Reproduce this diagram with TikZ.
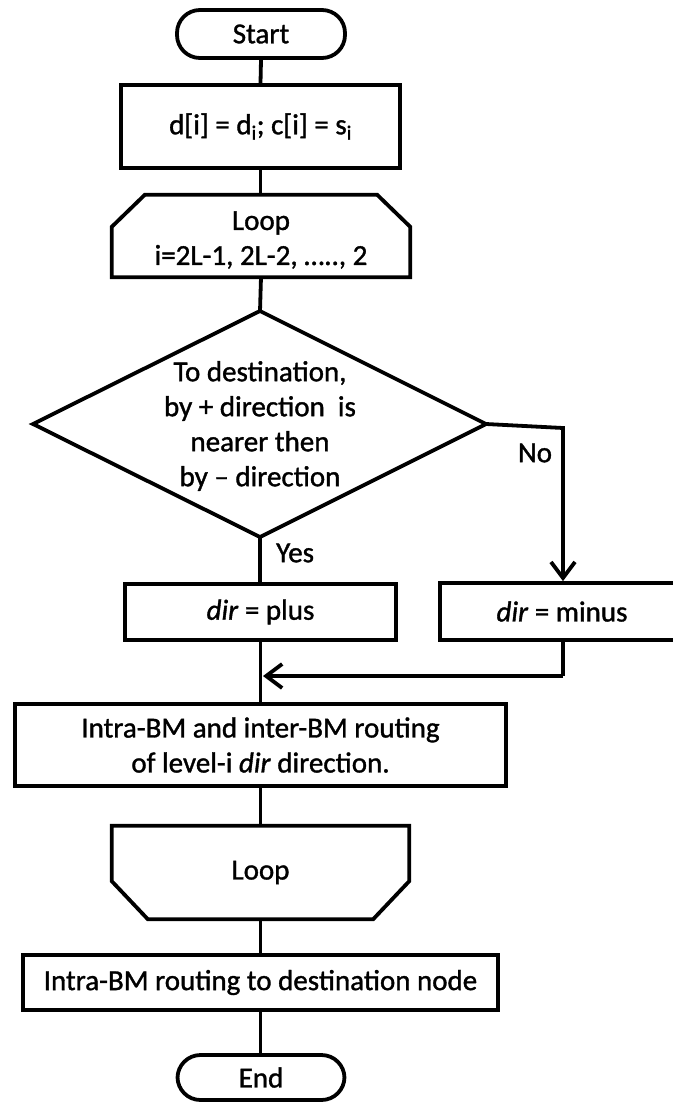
\documentclass[tikz,border=0pt]{standalone}
\usepackage{fontspec}
\setmainfont{Carlito}[FakeBold=1.2]
\usetikzlibrary{calc,arrows.meta}
\begin{document}
\begin{tikzpicture}[x=1pt,y=-1pt,
  every node/.style={font=\fontsize{29}{35}\selectfont, inner sep=0pt, align=center},
  line/.style={line width=3.8pt, line join=miter},
  box/.style={draw, line width=3.8pt, rectangle},
  term/.style={draw, line width=3.8pt, rectangle, rounded corners=23pt},
  arr/.style={line/.try, -{Straight Barb[length=16pt,width=24pt,line width=3.8pt]}},
  lbl/.style={font=\fontsize{29}{35}\selectfont}
]
\useasboundingbox (0,0) rectangle (672,1102);
\fill[white] (0,0) rectangle (672,1102);

% Start
\node[term, minimum width=168pt, minimum height=48pt] (start) at (261,34) {Start};
% init box
\node[box, minimum width=279pt, minimum height=83pt] (init) at (260.5,126.5) {d[i] = d\textsubscript{i}; c[i] = s\textsubscript{i}};
% Loop 1 (hexagon, chamfered top)
\node[minimum width=298pt, minimum height=82pt] (loopa) at (261,236) {};
\node (loopatext) at (261,240) {Loop\\i=2L-1, 2L-2, \ldots.., 2};
\draw[line] ($(loopa.south west)$) -- ($(loopa.north west)+(0,32)$) -- ($(loopa.north west)+(33,0)$)
  -- ($(loopa.north east)+(-33,0)$) -- ($(loopa.north east)+(0,32)$) -- (loopa.south east) -- cycle;
% Decision diamond
\coordinate (dtop) at (260,311);
\coordinate (dleft) at (33,424);
\coordinate (dright) at (486,424);
\coordinate (dbot) at (260,537);
\draw[line] (dtop) -- (dright) -- (dbot) -- (dleft) -- cycle;
\node (dec) at (260,426) {To destination,\\by + direction~ is\\nearer then\\by -- direction};
% plus / minus boxes
\node[box, minimum width=271pt, minimum height=56pt] (plus) at (260.5,612) {\textit{dir} = plus};
\node[box, minimum width=244pt, minimum height=57pt] (minus) at (562,611.5) {\textit{dir} = minus};
% routing box
\node[box, minimum width=491pt, minimum height=82pt] (route) at (260.5,745) {Intra-BM and inter-BM routing\\of level-i \textit{dir} direction.};
% Loop 2 (chamfered bottom)
\node[minimum width=297pt, minimum height=93pt] (loopb) at (260.5,872.5) {Loop};
\draw[line] (loopb.north west) -- ($(loopb.south west)+(0,-38)$) -- ($(loopb.south west)+(36,0)$)
  -- ($(loopb.south east)+(-36,0)$) -- ($(loopb.south east)+(0,-38)$) -- (loopb.north east) -- cycle;
% final box
\node[box, minimum width=475pt, minimum height=55pt] (final) at (260.5,982.5) {Intra-BM routing to destination node};
% End
\node[term, minimum width=167pt, minimum height=45pt] (end) at (261,1077.5) {End};

% connectors
\draw[line] (start.south) -- (init.north);
\draw[line] (init.south) -- (loopa.north -| init.south);
\draw[line] (loopa.south) -- (dtop);
\draw[line] (dbot) -- (plus.north -| dbot);
\coordinate (nocorner) at (563,428);
\draw[arr] (dright) -- (nocorner) -- (nocorner |- minus.north);
\coordinate (merge) at (563,676);
\draw[line] (minus.south -| merge) -- (merge);
\draw[arr] (merge) -- (263,676);
\draw[line] (plus.south -| route.north) -- (route.north);
\draw[line] (route.south) -- (loopb.north -| route.south);
\draw[line] (loopb.south) -- (final.north -| loopb.south);
\draw[line] (final.south) -- (end.north -| final.south);

% labels
\node[lbl, anchor=west] (yes) at (276,553) {Yes};
\node[lbl] (no) at (535,453) {No};
\end{tikzpicture}
\end{document}
